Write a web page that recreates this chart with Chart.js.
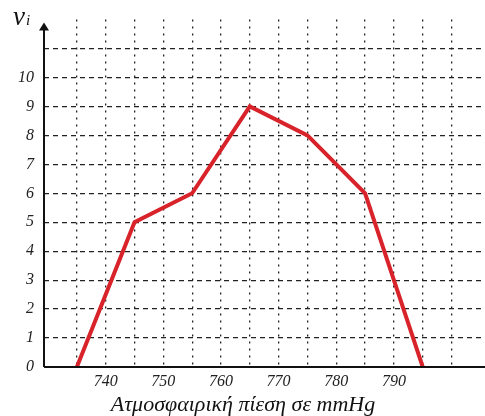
<!DOCTYPE html>
<html>
<head>
<meta charset="utf-8">
<script src="https://cdn.jsdelivr.net/npm/chart.js@4"></script>
<style>
    html, body { margin: 0; padding: 0; background: #fff; }
    #wrap { width: 485px; height: 416px; position: relative; }
</style>
</head>
<body>
<div id="wrap"><canvas id="pressureChart"></canvas></div>
<script>
// Datos
const pressures = [735, 745, 755, 765, 775, 785, 795];
const frequencies = [0, 5, 6, 9, 8, 6, 0];
const xTicks = [735, 740, 745, 750, 755, 760, 765, 770, 775, 780, 785, 790, 795, 800];
const xLabels = [740, 750, 760, 770, 780, 790];
const yTicks = [0, 1, 2, 3, 4, 5, 6, 7, 8, 9, 10, 11, 12];
const yLabels = [0, 1, 2, 3, 4, 5, 6, 7, 8, 9, 10];
const xTitle = 'Ατμοσφαιρική πίεση σε mmHg';

const serif = '"Liberation Serif", "DejaVu Serif", serif';

document.addEventListener('DOMContentLoaded', function() {
    // Ejes con flecha y etiquetas
    const axesPlugin = {
        id: 'axesPlugin',
        afterDraw(chart) {
            const c = chart.ctx;
            const area = chart.chartArea;
            const x0 = chart.scales.x.getPixelForValue(chart.scales.x.min);
            const y0 = chart.scales.y.getPixelForValue(0);
            c.save();
            c.strokeStyle = '#111';
            c.lineWidth = 2;
            c.beginPath();
            c.moveTo(x0, y0);
            c.lineTo(chart.width, y0);
            c.moveTo(x0, y0);
            c.lineTo(x0, area.top + 9);
            c.stroke();
            // flecha
            c.fillStyle = '#111';
            c.beginPath();
            c.moveTo(x0, area.top + 3);
            c.lineTo(x0 - 5, area.top + 11);
            c.lineTo(x0 + 5, area.top + 11);
            c.closePath();
            c.fill();
            // νi
            c.font = 'italic 27px ' + serif;
            c.textBaseline = 'alphabetic';
            c.fillText('ν', 13, 25);
            c.font = 'italic 15px ' + serif;
            c.fillText('i', 26, 25);
            // título eje x
            c.font = 'italic 22px ' + serif;
            c.textAlign = 'center';
            c.fillText(xTitle, 243, 411);
            c.restore();
        }
    };

    const ctx = document.getElementById('pressureChart').getContext('2d');
    const pressureChart = new Chart(ctx, {
        type: 'line',
        data: {
            datasets: [{
                data: pressures.map((p, i) => ({ x: p, y: frequencies[i] })),
                borderColor: '#d8232a',
                borderWidth: 4,
                pointRadius: 0,
                fill: false,
                tension: 0
            }]
        },
        options: {
            responsive: true,
            maintainAspectRatio: false,
            animation: false,
            layout: { padding: { top: 15, right: 0, left: 0, bottom: 0 } },
            plugins: {
                legend: { display: false },
                tooltip: { enabled: false }
            },
            scales: {
                x: {
                    type: 'linear',
                    min: 729.3,
                    max: 805.8,
                    afterBuildTicks: scale => { scale.ticks = xTicks.map(v => ({ value: v })); },
                    afterFit: scale => { scale.height = 49; },
                    ticks: {
                        autoSkip: false,
                        maxRotation: 0,
                        padding: 5,
                        color: '#222',
                        font: { family: serif, style: 'italic', size: 16 },
                        callback: v => xLabels.includes(v) ? String(v) : ''
                    },
                    grid: {
                        color: '#222',
                        lineWidth: 1.3,
                        drawTicks: false
                    },
                    border: { display: false, dash: [2, 5] }
                },
                y: {
                    min: 0,
                    max: 12,
                    afterBuildTicks: scale => { scale.ticks = yTicks.map(v => ({ value: v })); },
                    afterFit: scale => { scale.width = 44; },
                    ticks: {
                        autoSkip: false,
                        padding: 10,
                        color: '#222',
                        font: { family: serif, style: 'italic', size: 16 },
                        callback: v => yLabels.includes(v) ? String(v) : ''
                    },
                    grid: {
                        color: c => (c.tick && (c.tick.value === 0 || c.tick.value === 12)) ? 'rgba(0,0,0,0)' : '#222',
                        lineWidth: 1.3,
                        drawTicks: false
                    },
                    border: { display: false, dash: [5, 4] }
                }
            }
        },
        plugins: [axesPlugin]
    });
});
</script>
</body>
</html>
